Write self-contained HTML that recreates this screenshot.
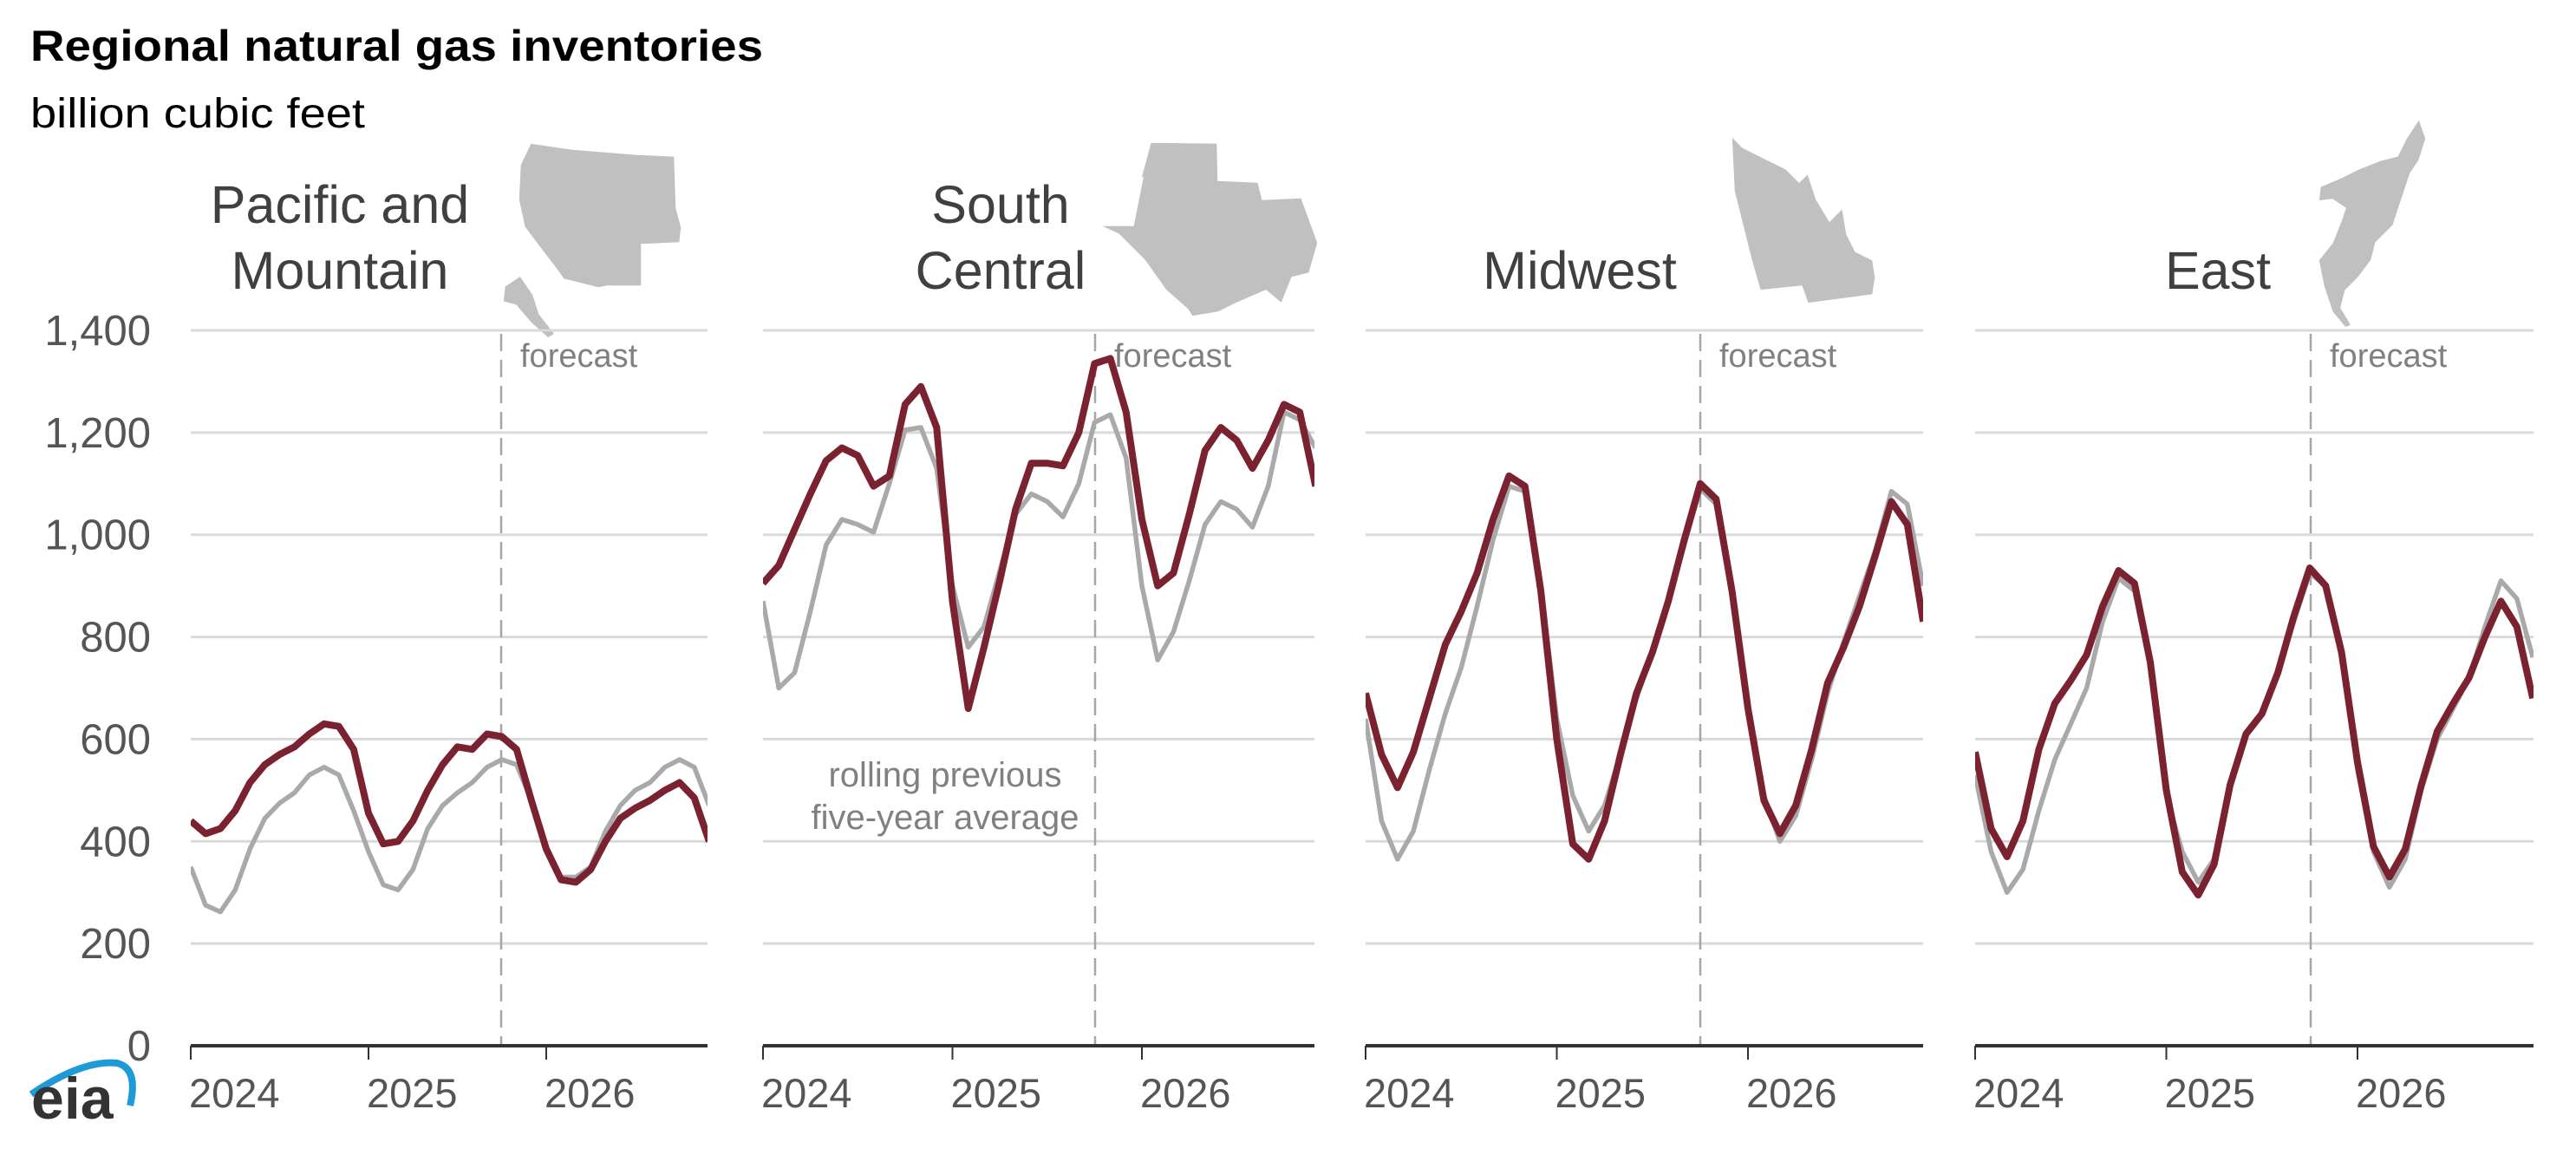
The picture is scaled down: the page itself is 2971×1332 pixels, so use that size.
<!DOCTYPE html>
<html><head><meta charset="utf-8"><style>
html,body{margin:0;padding:0;background:#fff;}
svg{display:block;font-family:"Liberation Sans",Arial,sans-serif;}
</style></head><body>
<svg id="c" width="2971" height="1332" viewBox="0 0 2971 1332" xmlns="http://www.w3.org/2000/svg">
<rect width="2971" height="1332" fill="#fff"/>
<text x="35" y="70" font-size="50" font-weight="bold" fill="#000" textLength="845" lengthAdjust="spacingAndGlyphs">Regional natural gas inventories</text>
<text x="35" y="147" font-size="48" fill="#000" textLength="386" lengthAdjust="spacingAndGlyphs">billion cubic feet</text>
<g font-size="61" fill="#404040" text-anchor="middle">
<text x="392" y="257">Pacific and</text><text x="392" y="333">Mountain</text>
<text x="1154" y="257">South</text><text x="1154" y="333">Central</text>
<text x="1822" y="333">Midwest</text>
<text x="2558" y="333">East</text>
</g>
<g fill="#c0c0c0" stroke="#fff" stroke-width="1.5">
<polygon points="612,165 660,172 735,178 778,180 780,240 786,262 784,280 740,282 740,330 700,330 690,332 650,322 640,308 620,282 605,262 598,230 600,190"/>
<polygon points="582,330 600,318 615,340 622,362 640,385 632,390 612,372 595,352 580,348"/>
<polygon points="1327,164 1404,165 1405,208 1451,210 1456,230 1501,228 1520,280 1510,315 1490,320 1478,350 1460,335 1425,350 1405,360 1375,365 1370,357 1345,335 1320,300 1290,270 1268,260 1307,260 1318,205 1316,205"/>
<polygon points="1997,157 2010,170 2060,195 2075,210 2085,200 2095,230 2110,255 2125,240 2130,270 2140,290 2160,300 2163,320 2160,340 2085,350 2078,330 2030,335 2020,300 2010,260 2000,220"/>
<polygon points="2790,137 2798,160 2790,185 2780,200 2770,230 2760,260 2740,280 2735,300 2720,320 2705,335 2700,355 2712,375 2705,378 2690,360 2680,330 2674,300 2690,280 2700,255 2705,240 2690,230 2674,232 2676,215 2700,205 2720,195 2745,185 2765,180 2775,160"/>
</g>
<g id="plots"></g>
<g font-size="40" fill="#808080" text-anchor="middle">
<text x="1090" y="907">rolling previous</text>
<text x="1090" y="956">five-year average</text>
</g>
<path d="M36,1262 Q95,1222 135,1226 Q160,1232 150,1275" fill="none" stroke="#1e9ad6" stroke-width="8"/>
<text x="36" y="1290" font-size="68" font-weight="bold" fill="#333">eia</text>
</svg>
<script>
var panels=[
{x0:220,x1:816,mw:205/12,fc:578,
r:[440,415,425,460,515,550,570,585,610,630,625,580,455,395,400,440,500,550,585,580,610,605,580,480,385,325,320,345,400,445,465,480,500,515,485,400],
g:[350,275,262,305,385,445,475,495,530,545,530,460,380,315,305,345,425,470,495,515,545,560,550,480,390,330,330,350,420,470,500,515,545,560,545,470]},
{x0:880,x1:1516,mw:218.5/12,fc:1263,
r:[905,940,1010,1080,1145,1170,1155,1095,1115,1255,1290,1210,870,660,780,910,1050,1140,1140,1135,1200,1335,1345,1240,1030,900,925,1040,1165,1210,1185,1130,1185,1255,1240,1095],
g:[870,700,730,850,980,1030,1020,1005,1100,1205,1210,1130,900,780,820,930,1040,1080,1065,1035,1100,1220,1235,1150,900,755,810,910,1020,1065,1050,1015,1095,1240,1225,1170]},
{x0:1575,x1:2218,mw:220.5/12,fc:1961,
r:[690,570,505,575,680,785,850,925,1030,1115,1095,890,600,395,365,440,570,690,770,870,990,1100,1070,890,660,480,415,470,580,710,780,860,960,1065,1020,830],
g:[640,440,365,420,540,650,740,860,990,1095,1085,900,640,490,420,470,570,680,770,870,980,1090,1060,880,650,490,400,450,560,690,790,880,970,1085,1060,900]},
{x0:2278,x1:2922,mw:220.5/12,fc:2665,
r:[575,425,370,440,580,670,715,765,860,930,905,750,500,340,295,355,510,610,650,730,840,935,900,770,555,390,330,385,510,615,670,720,800,870,820,680],
g:[530,380,300,345,460,560,630,700,830,915,890,740,490,380,320,365,510,610,650,730,830,925,900,760,540,380,310,365,500,600,660,720,820,910,875,760]}];
function Y(v){return 1206-v*(1206-381)/1400;}
var s='<defs>';
panels.forEach(function(p,i){s+='<clipPath id="cl'+i+'"><rect x="'+p.x0+'" y="300" width="'+(p.x1-p.x0)+'" height="906"/></clipPath>';});
s+='</defs>';
panels.forEach(function(p,i){
 for(var k=1;k<=7;k++){var y=Y(k*200);s+='<line x1="'+p.x0+'" x2="'+p.x1+'" y1="'+y+'" y2="'+y+'" stroke="#d9d9d9" stroke-width="3"/>';}
 s+='<line x1="'+p.fc+'" x2="'+p.fc+'" y1="385" y2="1206" stroke="#a6a6a6" stroke-width="2.5" stroke-dasharray="20,10"/>';
 s+='<text x="'+(p.fc+22)+'" y="423" font-size="38" fill="#808080">forecast</text>';
 ['g','r'].forEach(function(key){
  var d='';p[key].forEach(function(v,j){d+=(j?'L':'M')+(p.x0+j*p.mw).toFixed(1)+','+Y(v).toFixed(1);});
  s+='<path d="'+d+'" fill="none" stroke="'+(key=='r'?'#7b2230':'#a9a9a9')+'" stroke-width="'+(key=='r'?8:5.5)+'" stroke-linejoin="round" clip-path="url(#cl'+i+')"/>';
 });
 s+='<line x1="'+p.x0+'" x2="'+p.x1+'" y1="1206" y2="1206" stroke="#333" stroke-width="4"/>';
 [0,1,2].forEach(function(k){var x=p.x0+k*12*p.mw;s+='<line x1="'+x+'" x2="'+x+'" y1="1206" y2="1222" stroke="#333" stroke-width="2"/>';
  s+='<text x="'+(x-2)+'" y="1277" font-size="47" fill="#555">'+(2024+k)+'</text>';});
});
var labs=['0','200','400','600','800','1,000','1,200','1,400'];
for(var k=0;k<=7;k++){
 s+='<text x="174" y="'+(Y(k*200)+17)+'" font-size="49" fill="#555" text-anchor="end">'+labs[k]+'</text>';}
document.getElementById('plots').innerHTML=s;
</script>
</body></html>
